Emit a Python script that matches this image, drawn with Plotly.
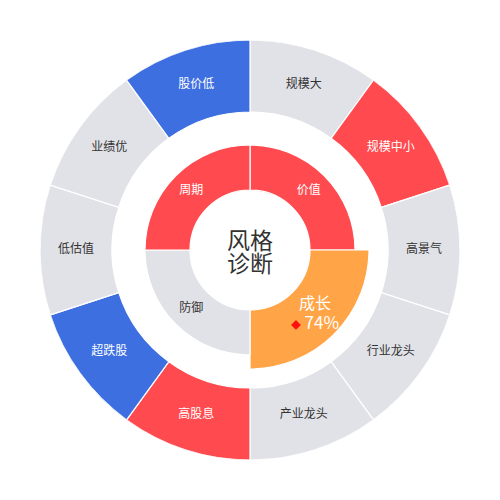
import plotly.graph_objects as go

# outer ring: ten style tags, clockwise from 12 o'clock
outer_labels = ['规模大', '规模中小', '高景气', '行业龙头', '产业龙头',
                '高股息', '超跌股', '低估值', '业绩优', '股价低']
outer_state = ['off', 'hot', 'off', 'off', 'off',
               'hot', 'cold', 'off', 'off', 'cold']

# inner ring: four quadrants, clockwise from 12 o'clock
inner_labels = ['价值', '成长', '防御', '周期']
inner_state = ['hot', 'pick', 'off', 'hot']
pick_score = 74

center_lines = ['风格', '诊断']

colors = {'off': '#E1E2E7', 'hot': '#FF4B4F', 'cold': '#3D6FE1', 'pick': '#FFA447'}
text_col = {'off': '#333333', 'hot': 'white', 'cold': 'white', 'pick': 'white'}

font = 'Noto Sans CJK SC'

outer_theta = [18 + 36 * i for i in range(len(outer_labels))]
inner_theta = [45 + 90 * i for i in range(len(inner_labels))]

fig = go.Figure()

fig.add_trace(go.Barpolar(
    r=[72] * len(outer_labels), base=138, theta=outer_theta, width=36,
    marker=dict(color=[colors[s] for s in outer_state],
                line=dict(color='white', width=1.2)),
    hoverinfo='skip'))

fig.add_trace(go.Barpolar(
    r=[59 if s == 'pick' else 45 for s in inner_state], base=60,
    theta=inner_theta, width=90,
    marker=dict(color=[colors[s] for s in inner_state],
                line=dict(color='white', width=1.2)),
    hoverinfo='skip'))

fig.add_trace(go.Scatterpolar(
    r=[174] * len(outer_labels), theta=outer_theta, mode='text',
    text=outer_labels,
    textfont=dict(family=font, size=12, color=[text_col[s] for s in outer_state]),
    hoverinfo='skip'))

inner_text = [f'{l}<br><span style="color:#FF1010;font-size:10px">◆</span> '
              f'<span style="font-size:17px">{pick_score}%</span>'
              if s == 'pick' else l for l, s in zip(inner_labels, inner_state)]
inner_size = [16 if s == 'pick' else 12 for s in inner_state]
inner_r = [92 if s == 'pick' else 83 for s in inner_state]
fig.add_trace(go.Scatterpolar(
    r=inner_r, theta=inner_theta, mode='text', text=inner_text,
    textfont=dict(family=font, size=inner_size, color=[text_col[s] for s in inner_state]),
    hoverinfo='skip'))

for i, line in enumerate(center_lines):
    fig.add_annotation(x=0.5, y=0.5, xref='paper', yref='paper',
                       text=line, showarrow=False, yshift=11 - 23 * i,
                       font=dict(family=font, size=23, color='#333333'))

# page body adds 8px, so margins are shifted to keep the centre at 250,250
fig.update_layout(
    width=500, height=500,
    margin=dict(l=32, r=48, t=32, b=48),
    paper_bgcolor='white',
    showlegend=False,
    polar=dict(
        domain=dict(x=[0, 1], y=[0, 1]),
        bgcolor='white',
        hole=0,
        radialaxis=dict(range=[0, 210], visible=False),
        angularaxis=dict(rotation=90, direction='clockwise', visible=False),
    ),
)

fig.write_html('out.html')
